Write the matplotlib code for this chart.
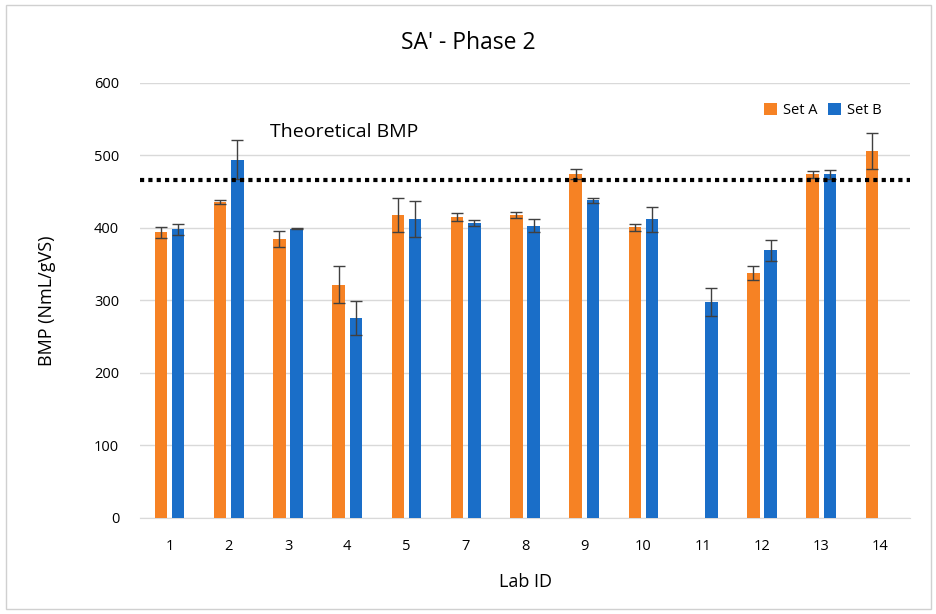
import numpy as np
import matplotlib.pyplot as plt
from matplotlib.patches import Rectangle

plt.rcParams['font.family'] = ['Open Sans', 'DejaVu Sans']

labs = ['1', '2', '3', '4', '5', '7', '8', '9', '10', '11', '12', '13', '14']
set_a = [394, 436, 385, 322, 418, 415, 418, 474, 401, np.nan, 338, 474, 506]
set_a_err = [8, 3, 11, 26, 24, 5, 4, 7, 5, 0, 10, 5, 25]
set_b = [398, 494, 399, 276, 412, 407, 403, 438, 412, 298, 369, 474, np.nan]
set_b_err = [8, 27, 1, 23, 25, 4, 9, 3, 17, 19, 14, 6, 0]
theoretical_bmp = 466

orange = '#F68224'
blue = '#1A6EC8'

fig = plt.figure(figsize=(9.37, 6.14), dpi=100)
ax = fig.add_axes([0.1494, 0.1564, 0.8218, 0.7085])

x = np.arange(len(labs))
w = 0.21
off = 0.145
ax.bar(x - off, set_a, w, color=orange, label='Set A', zorder=3)
ax.bar(x + off, set_b, w, color=blue, label='Set B', zorder=3)
ax.errorbar(x - off, set_a, yerr=set_a_err, fmt='none', ecolor='#404040',
            elinewidth=1, capsize=4, capthick=1, zorder=4)
ax.errorbar(x + off, set_b, yerr=set_b_err, fmt='none', ecolor='#404040',
            elinewidth=1, capsize=4, capthick=1, zorder=4)

ax.axhline(theoretical_bmp, color='black', linestyle=(0, (1, 1)), linewidth=3, zorder=5)
ax.text(2.95, 533, 'Theoretical BMP', ha='center', va='center', fontsize=14)

ax.set_xlim(-0.5, len(labs) - 0.5)
ax.set_ylim(0, 600)
ax.set_yticks(range(0, 601, 100))
ax.set_xticks(x)
ax.set_xticklabels(labs)
ax.tick_params(axis='both', length=0, labelsize=10.5)
ax.tick_params(axis='x', pad=15)
ax.tick_params(axis='y', pad=15)
ax.grid(axis='y', color='#D9D9D9', linewidth=1, zorder=0)
for s in ['top', 'right', 'left']:
    ax.spines[s].set_visible(False)
ax.spines['bottom'].set_color('#D9D9D9')

ax.set_xlabel('Lab ID', fontsize=13, labelpad=14)
ax.set_ylabel('BMP (NmL/gVS)', fontsize=13, labelpad=27)
fig.text(0.5, 0.93, "SA' - Phase 2", ha='center', va='center', fontsize=16.5)

ax.legend(loc='upper right', bbox_to_anchor=(0.98, 0.985), ncol=2, frameon=False,
          fontsize=10.5, handlelength=0.9, handleheight=0.9, columnspacing=0.7,
          handletextpad=0.4)

fig.patches.append(Rectangle((0.006, 0.008), 0.988, 0.984, transform=fig.transFigure,
                             fill=False, edgecolor='#D0D0D0', linewidth=1))

fig.savefig('out.png', dpi=100)
